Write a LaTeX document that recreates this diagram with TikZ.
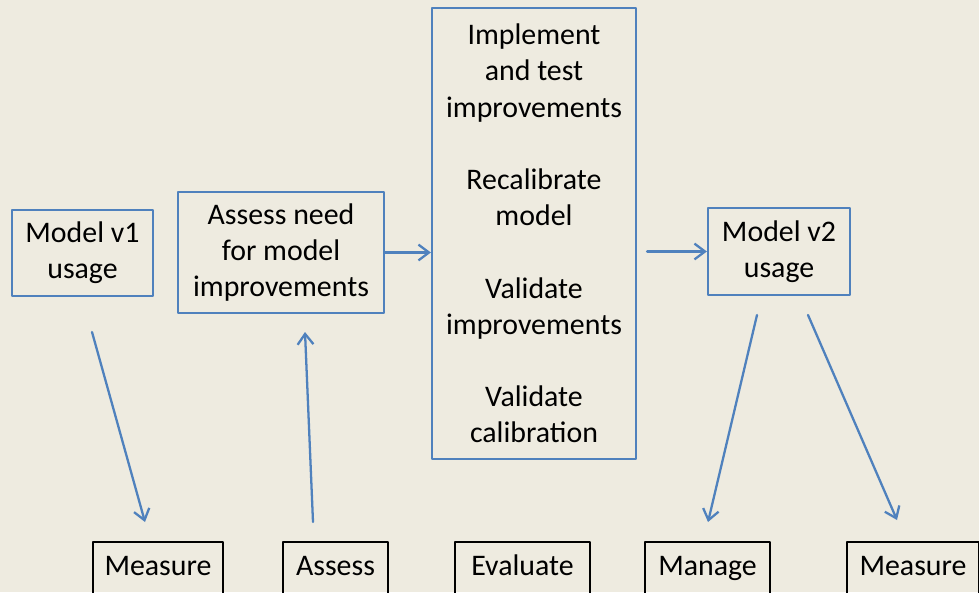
\documentclass[tikz,border=0pt]{standalone}
\usepackage{fontspec}
\setmainfont{Carlito}
\usetikzlibrary{arrows.meta}
\definecolor{paper}{RGB}{238,235,224}
\definecolor{steel}{RGB}{79,129,189}
\begin{document}
\begin{tikzpicture}[x=0.02cm, y=-0.02cm, line join=round, line cap=round, >={Straight Barb[length=6pt,width=9pt]}, font=\fontsize{17}{20.6}\selectfont]
			\tikzset{blue-box/.style={draw=steel, line width=1.3pt, align=center, inner sep=0pt},
				task-box/.style={draw=black, line width=1pt, minimum height=1.04cm, inner sep=0pt, text height=12pt, text depth=4pt},
				flow/.style={->, draw=steel, line width=1.3pt}}
			\useasboundingbox (0,0) rectangle (979,592);
			\clip (0,0) rectangle (979,592);
			\fill[paper] (0,0) rectangle (979,592);
			% upper row
			\node[blue-box, minimum width=2.82cm, minimum height=1.72cm] (v1) at (82.5,253) {Model v1\\usage};
			\node[blue-box, minimum width=4.12cm, minimum height=2.42cm] (need) at (281,252.5) {Assess need\\for model\\improvements};
			\node[blue-box, minimum width=4.08cm, minimum height=9.02cm] (impl) at (534,233.5) {Implement\\and test\\improvements\\ \\Recalibrate\\model\\ \\Validate\\improvements\\ \\Validate\\calibration};
			\node[blue-box, minimum width=2.84cm, minimum height=1.74cm] (v2) at (779,251.5) {Model v2\\usage};
			% lower row
			\node[task-box, minimum width=2.6cm] (measA) at (158,568) {Measure};
			\node[task-box, minimum width=2.1cm] (assess) at (335.5,568) {Assess};
			\node[task-box, minimum width=2.7cm] (eval) at (522.5,568) {Evaluate};
			\node[task-box, minimum width=2.5cm] (manage) at (707.5,568) {Manage};
			\node[task-box, minimum width=2.64cm] (measB) at (913,568) {Measure};
			% free ends of the slanted arrows
			\coordinate (p1) at (92,332);
			\coordinate (q1) at (145,522);
			\coordinate (p2) at (313,522);
			\coordinate (q2) at (305,332);
			\coordinate (p3) at (757,315);
			\coordinate (q3) at (708,522);
			\coordinate (p4) at (808,315);
			\coordinate (q4) at (897,520);
			% arrows
			\draw[flow] (need.east) -- (need.east -| impl.west);
			\draw[flow, shorten <=0.2cm] (v2.west -| impl.east) -- (v2.west);
			\draw[flow] (p1) -- (q1);
			\draw[flow] (p2) -- (q2);
			\draw[flow] (p3) -- (q3);
			\draw[flow] (p4) -- (q4);
		\end{tikzpicture}
\end{document}
